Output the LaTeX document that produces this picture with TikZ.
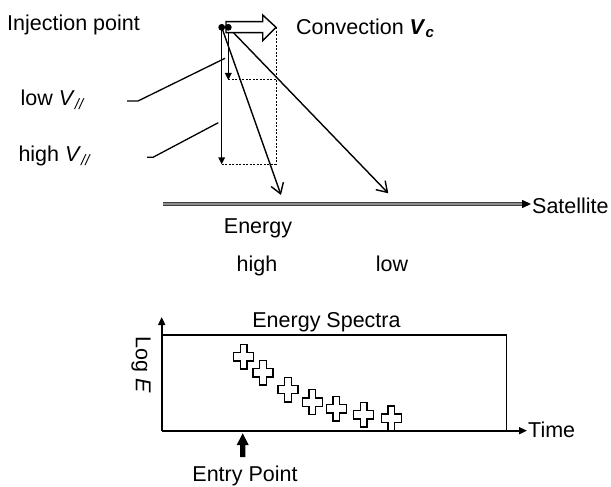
\documentclass[tikz,border=0pt]{standalone}
\usepackage{fontspec}
\setmainfont{Liberation Sans}
\usetikzlibrary{arrows.meta}
\begin{document}
\begin{tikzpicture}[x=1pt,y=-1pt,
  lbl/.style={inner sep=0pt,font=\fontsize{21.5}{25}\selectfont},
  vec/.style={line width=1.5pt,-{Triangle[length=7pt,width=6.5pt]}},
  openvec/.style={line width=1.4pt,-{Straight Barb[length=10pt,width=13pt,line width=1.4pt]}},
  guide/.style={line width=1pt,dash pattern=on 2pt off 1.5pt},
  leader/.style={line width=1.3pt},
  axis/.style={line width=1.7pt,-{Triangle[length=8pt,width=7pt]}},
  plusmark/.pic={\draw[line width=1.4pt,fill=white]
    (-3.4,-12.3) -- (3.4,-12.3) -- (3.4,-4.2) -- (10,-4.2) -- (10,4.2) -- (3.4,4.2)
    -- (3.4,12.3) -- (-3.4,12.3) -- (-3.4,4.2) -- (-10,4.2) -- (-10,-4.2) -- (-3.4,-4.2) -- cycle;}
  ]
\useasboundingbox (0,0) rectangle (611,487);

% texts
\node[lbl,anchor=base west] (inj) at (7,30.7) {Injection point};
\node[lbl,anchor=base west] (conv) at (296,34.5) {Convection \textbf{\textit{V}}\textsubscript{\textbf{\textit{c}}}};
\node[lbl,anchor=base west] (lowv) at (20.5,106) {low \textit{V}\textsubscript{\textit{//}}};
\node[lbl,anchor=base west] (highv) at (18.3,161.7) {high \textit{V}\textsubscript{\textit{//}}};
\node[lbl,anchor=base west] (sat) at (532,213) {Satellite};
\node[lbl,anchor=base] (energy) at (258,233) {Energy};
\node[lbl,anchor=base] (high) at (257,271.7) {high};
\node[lbl,anchor=base] (low) at (392,271.7) {low};
\node[lbl,anchor=base] (spec) at (326.5,327.3) {Energy Spectra};
\node[lbl,anchor=base west] (time) at (528,437.3) {Time};
\node[lbl,anchor=base] (entry) at (245,481.5) {Entry Point};
\node[lbl,rotate=-90] (loge) at (141,365) {Log \textit{E}};

% key points
\coordinate (d1) at (221.7,27.3);
\coordinate (d2) at (228.3,27.3);
\coordinate (ctip) at (276,27.3);
\coordinate (lowend) at (228.3,80);
\coordinate (highend) at (221.7,164.3);
\coordinate (lowc) at (276,80);
\coordinate (highc) at (276,164.3);
\coordinate (res1) at (281,195);
\coordinate (res2) at (388.3,193.3);

% dashed guides
\draw[guide] (ctip) -- (highc);
\draw[guide] (lowend) -- (lowc);
\draw[guide] (highend) -- (highc);

% velocity arrows
\draw[vec] (d1) -- (highend);
\draw[vec] (d2) -- (lowend);
\draw[openvec] (d1) -- (res1);
\draw[openvec] (d2) -- (res2);

% convection hollow arrow
\draw[line width=1.4pt,fill=white] (226,21.7) -- (262.7,21.7) -- (262.7,15) -- (ctip)
  -- (262.7,40.7) -- (262.7,32.7) -- (226,32.7) -- cycle;

% dots
\fill (d1) circle[radius=3.4pt];
\fill (d2) circle[radius=3.4pt];

% leader lines
\coordinate (l1a) at (127,101);
\coordinate (l1b) at (138,101);
\coordinate (l1c) at (225,58.3);
\coordinate (l2a) at (147,157.3);
\coordinate (l2b) at (153,157.3);
\coordinate (l2c) at (218.3,122.7);
\draw[leader] (l1a) -- (l1b) -- (l1c);
\draw[leader] (l2a) -- (l2b) -- (l2c);

% satellite track
\coordinate (s0) at (162.7,204);
\coordinate (s1) at (523,204);
\coordinate (s2) at (531,204);
\draw[draw=black!75,double=black!45,line width=1pt,double distance=1.1pt] (s0) -- (s1);
\fill (522,199.8) -- (s2) -- (522,208.2) -- cycle;

% spectra box
\coordinate (o) at (161.7,430.7);
\coordinate (ytop) at (161.7,317);
\coordinate (xend) at (527,430.7);
\draw[line width=1.5pt] (161.7,335) -- (506.7,335) -- (506.7,430.7);
\draw[axis] (o) -- (ytop);
\draw[axis] (o) -- (xend);

% entry arrow
\fill (240.2,457) -- (240.2,445) -- (236.7,445) -- (242.7,433.3) -- (248.7,445)
  -- (245.3,445) -- (245.3,457) -- cycle;

% data marks
\pic at (243.7,356.8) {plusmark};
\pic at (263,372.8) {plusmark};
\pic at (288,389.5) {plusmark};
\pic at (312.3,402) {plusmark};
\pic at (336.3,408.7) {plusmark};
\pic at (363.7,414.7) {plusmark};
\pic at (391.3,418.3) {plusmark};
\end{tikzpicture}
\end{document}
